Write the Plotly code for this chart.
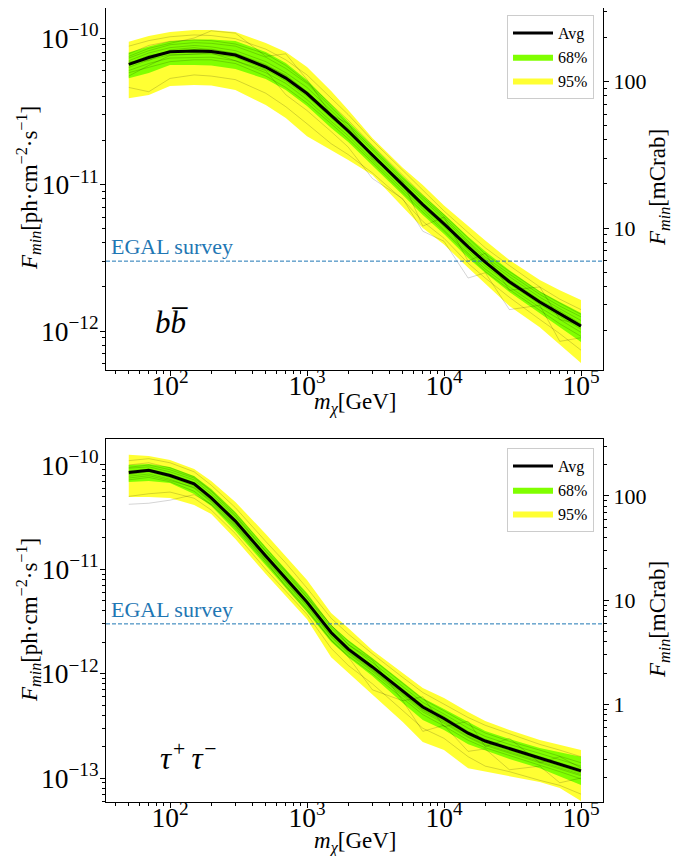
import math
import plotly.graph_objects as go

# ---------------- data ----------------
mass = [50, 70, 100, 150, 200, 300, 500, 700, 1000, 1500, 2000, 3000, 5000, 7000,
        10000, 15000, 20000, 30000, 50000, 70000, 100000]

# b bbar channel
bb_avg = [6.61e-11, 7.36e-11, 8.05e-11, 8.15e-11, 8.09e-11, 7.66e-11, 6.34e-11, 5.33e-11, 4.18e-11, 2.94e-11,
          2.32e-11, 1.59e-11, 9.92e-12, 7.30e-12, 5.38e-12, 3.75e-12, 2.95e-12, 2.17e-12, 1.58e-12, 1.32e-12, 1.08e-12]
bb_68_hi = [7.98e-11, 8.75e-11, 9.50e-11, 9.77e-11, 9.77e-11, 9.54e-11, 8.02e-11, 6.75e-11, 5.17e-11, 3.54e-11,
            2.71e-11, 1.83e-11, 1.14e-11, 8.48e-12, 6.30e-12, 4.40e-12, 3.50e-12, 2.60e-12, 1.87e-12, 1.58e-12, 1.33e-12]
bb_68_lo = [5.31e-11, 5.77e-11, 6.54e-11, 6.54e-11, 6.49e-11, 6.14e-11, 5.25e-11, 4.42e-11, 3.43e-11, 2.43e-11,
            1.95e-11, 1.36e-11, 8.48e-12, 6.19e-12, 4.60e-12, 3.15e-12, 2.50e-12, 1.85e-12, 1.33e-12, 1.06e-12, 8.41e-13]
bb_95_hi = [9.43e-11, 1.032e-10, 1.099e-10, 1.134e-10, 1.134e-10, 1.099e-10, 9.25e-11, 8.02e-11, 6.34e-11, 4.35e-11,
            3.23e-11, 2.08e-11, 1.30e-11, 9.92e-12, 7.20e-12, 5.20e-12, 4.15e-12, 3.05e-12, 2.23e-12, 1.90e-12, 1.63e-12]
bb_95_lo = [3.88e-11, 4.08e-11, 4.70e-11, 4.78e-11, 4.74e-11, 4.42e-11, 3.49e-11, 2.84e-11, 2.14e-11, 1.72e-11,
            1.47e-11, 1.16e-11, 7.02e-12, 5.05e-12, 3.90e-12, 2.70e-12, 2.10e-12, 1.48e-12, 1.06e-12, 8.02e-13, 6.05e-13]
bb_samples = [
    [8.8e-11, 9.6e-11, 1.02e-10, 1.05e-10, 1.04e-10, 9.9e-11, 8.4e-11, 7.1e-11, 5.6e-11, 3.9e-11, 3.0e-11, 2.0e-11, 1.25e-11, 9.1e-12, 6.6e-12, 4.7e-12, 3.7e-12, 2.8e-12, 2.0e-12, 1.65e-12, 1.4e-12],
    [4.6e-11, 4.3e-11, 5.3e-11, 5.6e-11, 5.5e-11, 5.2e-11, 4.2e-11, 3.4e-11, 2.6e-11, 1.9e-11, 1.6e-11, 1.2e-11, 7.9e-12, 5.6e-12, 4.3e-12, 2.9e-12, 2.3e-12, 1.7e-12, 1.2e-12, 9.6e-13, 7.4e-13],
    [7.5e-11, 8.5e-11, 9.2e-11, 1.0e-10, 1.12e-10, 1.08e-10, 7.5e-11, 7.8e-11, 5.2e-11, 3.0e-11, 2.6e-11, 1.5e-11, 1.05e-11, 5.2e-12, 6.0e-12, 3.0e-12, 3.4e-12, 1.9e-12, 2.0e-12, 1.2e-12, 1.1e-12],
    [7.0e-11, 7.9e-11, 8.6e-11, 8.9e-11, 8.7e-11, 8.2e-11, 6.9e-11, 5.8e-11, 4.6e-11, 3.2e-11, 2.5e-11, 1.72e-11, 1.06e-11, 7.9e-12, 5.8e-12, 4.0e-12, 3.1e-12, 2.35e-12, 1.7e-12, 1.42e-12, 1.18e-12],
    [6.0e-11, 6.7e-11, 7.3e-11, 7.4e-11, 7.4e-11, 7.0e-11, 5.8e-11, 4.9e-11, 3.8e-11, 2.7e-11, 2.15e-11, 1.47e-11, 9.2e-12, 6.8e-12, 4.95e-12, 3.4e-12, 2.65e-12, 2.0e-12, 1.45e-12, 1.2e-12, 9.8e-13],
    [5.5e-11, 6.5e-11, 7.6e-11, 7.8e-11, 7.9e-11, 7.0e-11, 6.0e-11, 4.1e-11, 3.2e-11, 2.3e-11, 1.8e-11, 1.1e-11, 8.0e-12, 4.8e-12, 4.1e-12, 2.3e-12, 2.5e-12, 1.4e-12, 1.5e-12, 8.5e-13, 9.0e-13],
    [6.9e-11, 7.0e-11, 8.3e-11, 8.6e-11, 8.3e-11, 7.9e-11, 6.6e-11, 5.5e-11, 4.3e-11, 3.0e-11, 2.42e-11, 1.62e-11, 1.03e-11, 7.5e-12, 5.6e-12, 3.85e-12, 3.0e-12, 2.25e-12, 1.63e-12, 1.37e-12, 1.12e-12],
    [6.3e-11, 7.1e-11, 7.7e-11, 7.8e-11, 7.8e-11, 7.4e-11, 6.1e-11, 5.1e-11, 4.0e-11, 2.85e-11, 2.25e-11, 1.55e-11, 9.6e-12, 7.0e-12, 5.15e-12, 3.55e-12, 2.78e-12, 2.1e-12, 1.52e-12, 1.25e-12, 1.03e-12],
    [7.3e-11, 8.2e-11, 9.0e-11, 9.3e-11, 9.2e-11, 8.8e-11, 7.4e-11, 6.2e-11, 4.9e-11, 3.35e-11, 2.6e-11, 1.77e-11, 1.1e-11, 8.2e-12, 6.0e-12, 4.1e-12, 3.2e-12, 2.45e-12, 1.78e-12, 1.48e-12, 1.25e-12],
    [5.8e-11, 6.3e-11, 6.9e-11, 7.1e-11, 7.1e-11, 6.7e-11, 5.5e-11, 4.6e-11, 3.6e-11, 2.6e-11, 2.05e-11, 1.42e-11, 8.9e-12, 6.5e-12, 4.8e-12, 3.3e-12, 2.55e-12, 1.92e-12, 1.38e-12, 1.12e-12, 9.2e-13],
    [6.7e-11, 7.6e-11, 8.0e-11, 8.3e-11, 8.4e-11, 7.8e-11, 6.5e-11, 5.6e-11, 4.3e-11, 3.05e-11, 2.35e-11, 1.6e-11, 1.0e-11, 7.4e-12, 5.4e-12, 3.7e-12, 2.9e-12, 2.2e-12, 1.6e-12, 1.33e-12, 1.1e-12],
    [7.8e-11, 8.9e-11, 9.5e-11, 9.7e-11, 9.6e-11, 9.1e-11, 7.8e-11, 6.5e-11, 5.0e-11, 3.5e-11, 2.75e-11, 1.85e-11, 1.15e-11, 8.5e-12, 6.2e-12, 4.3e-12, 3.35e-12, 2.55e-12, 1.85e-12, 1.55e-12, 1.3e-12],
]

# tau+ tau- channel
tt_avg = [8.47e-11, 8.89e-11, 7.93e-11, 6.58e-11, 4.83e-11, 2.90e-11, 1.34e-11, 8.26e-12, 4.85e-12, 2.48e-12,
          1.72e-12, 1.16e-12, 6.81e-13, 4.79e-13, 3.72e-13, 2.69e-13, 2.26e-13, 1.91e-13, 1.55e-13, 1.36e-13, 1.17e-13]
tt_68_hi = [1.0e-10, 1.023e-10, 9.57e-11, 7.85e-11, 5.89e-11, 3.54e-11, 1.64e-11, 1.007e-11, 5.93e-12, 2.92e-12,
            2.10e-12, 1.41e-12, 8.32e-13, 5.83e-13, 4.58e-13, 3.44e-13, 2.82e-13, 2.36e-13, 1.94e-13, 1.77e-13, 1.60e-13]
tt_68_lo = [6.87e-11, 7.03e-11, 6.71e-11, 5.27e-11, 4.05e-11, 2.33e-11, 1.08e-11, 6.62e-12, 3.90e-12, 2.01e-12,
            1.44e-12, 9.48e-13, 5.22e-13, 3.59e-13, 2.88e-13, 2.11e-13, 1.85e-13, 1.52e-13, 1.24e-13, 1.04e-13, 8.55e-14]
tt_95_hi = [1.25e-10, 1.219e-10, 1.117e-10, 9.16e-11, 7.03e-11, 4.42e-11, 2.18e-11, 1.34e-11, 7.89e-12, 3.81e-12,
            2.74e-12, 1.68e-12, 1.01e-12, 7.28e-13, 5.83e-13, 4.29e-13, 3.52e-13, 2.88e-13, 2.31e-13, 2.07e-13, 1.85e-13]
tt_95_lo = [4.93e-11, 4.93e-11, 4.83e-11, 4.13e-11, 3.39e-11, 1.95e-11, 9.02e-12, 5.55e-12, 3.33e-12, 1.44e-12,
            1.04e-12, 6.37e-13, 3.44e-13, 2.21e-13, 1.85e-13, 1.24e-13, 1.16e-13, 1.04e-13, 9.14e-14, 8.0e-14, 6.01e-14]
tt_samples = [
    [1.1e-10, 1.15e-10, 1.05e-10, 8.6e-11, 6.4e-11, 3.9e-11, 1.85e-11, 1.15e-11, 6.6e-12, 3.4e-12, 2.4e-12, 1.55e-12, 9.2e-13, 6.6e-13, 5.1e-13, 3.8e-13, 3.2e-13, 2.65e-13, 2.1e-13, 1.85e-13, 1.6e-13],
    [5.0e-11, 5.3e-11, 5.5e-11, 4.8e-11, 3.7e-11, 2.2e-11, 1.0e-11, 6.2e-12, 3.7e-12, 1.75e-12, 1.2e-12, 8.0e-13, 4.4e-13, 3.0e-13, 2.4e-13, 1.6e-13, 1.3e-13, 1.15e-13, 9.5e-14, 8.5e-14, 7.0e-14],
    [9.5e-11, 1.0e-10, 9.0e-11, 7.5e-11, 5.6e-11, 3.3e-11, 1.5e-11, 9.5e-12, 5.4e-12, 2.9e-12, 1.9e-12, 1.35e-12, 5.5e-13, 6.0e-13, 3.1e-13, 3.5e-13, 2.0e-13, 2.4e-13, 1.4e-13, 1.6e-13, 1.25e-13],
    [9.3e-11, 9.6e-11, 8.6e-11, 7.2e-11, 5.3e-11, 3.2e-11, 1.48e-11, 9.1e-12, 5.35e-12, 2.75e-12, 1.9e-12, 1.28e-12, 7.5e-13, 5.3e-13, 4.1e-13, 3.0e-13, 2.5e-13, 2.1e-13, 1.72e-13, 1.5e-13, 1.3e-13],
    [7.8e-11, 8.2e-11, 7.3e-11, 6.0e-11, 4.4e-11, 2.65e-11, 1.22e-11, 7.5e-12, 4.4e-12, 2.25e-12, 1.56e-12, 1.05e-12, 6.2e-13, 4.3e-13, 3.35e-13, 2.45e-13, 2.05e-13, 1.73e-13, 1.4e-13, 1.23e-13, 1.05e-13],
    [4.2e-11, 4.3e-11, 4.6e-11, 5.2e-11, 4.2e-11, 2.6e-11, 1.2e-11, 6.8e-12, 4.0e-12, 2.1e-12, 1.45e-12, 7.0e-13, 5.5e-13, 2.8e-13, 3.2e-13, 1.8e-13, 1.9e-13, 1.2e-13, 1.3e-13, 9.0e-14, 1.0e-13],
    [8.8e-11, 9.1e-11, 8.2e-11, 6.8e-11, 5.0e-11, 3.0e-11, 1.4e-11, 8.6e-12, 5.0e-12, 2.58e-12, 1.8e-12, 1.2e-12, 7.1e-13, 5.0e-13, 3.9e-13, 2.8e-13, 2.35e-13, 1.98e-13, 1.6e-13, 1.4e-13, 1.21e-13],
    [8.1e-11, 8.6e-11, 7.6e-11, 6.3e-11, 4.6e-11, 2.78e-11, 1.28e-11, 7.9e-12, 4.65e-12, 2.38e-12, 1.64e-12, 1.1e-12, 6.5e-13, 4.55e-13, 3.55e-13, 2.58e-13, 2.17e-13, 1.83e-13, 1.48e-13, 1.3e-13, 1.12e-13],
    [1.0e-10, 1.05e-10, 9.4e-11, 7.7e-11, 5.7e-11, 3.45e-11, 1.6e-11, 9.8e-12, 5.7e-12, 2.9e-12, 2.05e-12, 1.38e-12, 8.0e-13, 5.7e-13, 4.4e-13, 3.25e-13, 2.7e-13, 2.25e-13, 1.85e-13, 1.62e-13, 1.4e-13],
    [7.2e-11, 7.6e-11, 6.9e-11, 5.6e-11, 4.15e-11, 2.5e-11, 1.15e-11, 7.0e-12, 4.15e-12, 2.1e-12, 1.48e-12, 1.0e-12, 5.8e-13, 4.05e-13, 3.15e-13, 2.3e-13, 1.95e-13, 1.65e-13, 1.32e-13, 1.15e-13, 9.8e-14],
    [8.6e-11, 8.7e-11, 8.0e-11, 6.5e-11, 4.9e-11, 2.95e-11, 1.36e-11, 8.4e-12, 4.95e-12, 2.5e-12, 1.75e-12, 1.18e-12, 6.9e-13, 4.85e-13, 3.8e-13, 2.72e-13, 2.3e-13, 1.93e-13, 1.57e-13, 1.38e-13, 1.18e-13],
    [7.5e-11, 7.9e-11, 7.1e-11, 6.1e-11, 4.5e-11, 2.7e-11, 1.25e-11, 7.7e-12, 4.5e-12, 2.3e-12, 1.6e-12, 1.08e-12, 6.4e-13, 4.45e-13, 3.45e-13, 2.5e-13, 2.1e-13, 1.78e-13, 1.44e-13, 1.27e-13, 1.08e-13],
]

EGAL_FLUX = 3e-12          # ph cm^-2 s^-1
MCRAB = 5.05e-13           # flux of 1 mCrab
channel_labels = ["<i>b</i><i>b\u0305</i>", "<i>\u03c4</i><sup>\u200a+</sup>\u2009<i>\u03c4</i><sup>\u200a\u2212</sup>"]
xtitle = "<i>m</i><sub><i>\u03c7</i></sub>[GeV]"
ytitle = "<i>F</i><sub><i>min</i></sub>[ph\u00b7cm<sup>\u22122</sup>\u00b7s<sup>\u22121</sup>]"
rtitle = "<i>F</i><sub><i>min</i></sub>[mCrab]"

# ---------------- layout helpers ----------------
FONT = "Liberation Serif"
GREEN = "#80ff00"
YELLOW = "#ffff33"
BLUE = "#1f77b4"

OFF = 8                      # page body margin of the html page
W, H = 686 - OFF, 856 - OFF

def px(xp):                  # page pixel -> paper x
    return (xp - OFF) / W

def py(yp):                  # page pixel -> paper y
    return 1 - (yp - OFF) / H

XDOM = [px(106), px(603)]
XR = [1.5328, 5.1606]
top_dom = [py(370), 1.0]
bot_dom = [py(802), py(439)]
top_range = [-12.266, -9.795]
bot_range = [-13.23, -9.751]
shift = -math.log10(MCRAB)

fig = go.Figure()

panels = [
    dict(avg=bb_avg, h68=bb_68_hi, l68=bb_68_lo, h95=bb_95_hi, l95=bb_95_lo, samples=bb_samples,
         xa="x", ya="y", legend="legend"),
    dict(avg=tt_avg, h68=tt_68_hi, l68=tt_68_lo, h95=tt_95_hi, l95=tt_95_lo, samples=tt_samples,
         xa="x2", ya="y3", legend="legend2"),
]

for p in panels:
    xs = mass + mass[::-1]
    fig.add_trace(go.Scatter(x=xs, y=p["h95"] + p["l95"][::-1], fill="toself", fillcolor=YELLOW,
                             line=dict(width=0, color=YELLOW), mode="lines", name="95%",
                             xaxis=p["xa"], yaxis=p["ya"], legend=p["legend"], legendrank=3,
                             hoverinfo="skip"))
    fig.add_trace(go.Scatter(x=xs, y=p["h68"] + p["l68"][::-1], fill="toself", fillcolor=GREEN,
                             line=dict(width=0, color=GREEN), mode="lines", name="68%",
                             xaxis=p["xa"], yaxis=p["ya"], legend=p["legend"], legendrank=2,
                             hoverinfo="skip"))
    for s in p["samples"]:
        fig.add_trace(go.Scatter(x=mass, y=s, mode="lines", line=dict(color="rgba(0,0,0,0.17)", width=1),
                                 showlegend=False, xaxis=p["xa"], yaxis=p["ya"], hoverinfo="skip"))
    # EGAL survey sensitivity (horizontal line across the full axis)
    fig.add_trace(go.Scatter(x=[10 ** XR[0], 10 ** XR[1]], y=[EGAL_FLUX, EGAL_FLUX], mode="lines",
                             line=dict(color=BLUE, width=1, dash="4px,2px"), showlegend=False,
                             xaxis=p["xa"], yaxis=p["ya"], hoverinfo="skip"))
    fig.add_trace(go.Scatter(x=mass, y=p["avg"], mode="lines", line=dict(color="black", width=3),
                             name="Avg", xaxis=p["xa"], yaxis=p["ya"], legend=p["legend"], legendrank=1))

# ---------------- axes ----------------
tickfont = dict(family=FONT, size=22, color="black")
titlefont = dict(family=FONT, size=23, color="black")
minor = dict(ticks="outside", ticklen=3, tickwidth=1, tickcolor="black", dtick="D1", showgrid=False)
common = dict(type="log", dtick=1, showgrid=False, zeroline=False, ticks="outside", ticklen=5, tickwidth=1,
              tickcolor="black", tickfont=tickfont, minor=minor, automargin=False)

def xaxis(anchor):
    return dict(common, domain=XDOM, anchor=anchor, range=XR, exponentformat="power",
                showline=True, linecolor="black", linewidth=1, mirror=True, ticklabelstandoff=-13)

def yaxis(anchor, dom, rng):
    return dict(common, domain=dom, anchor=anchor, range=rng, exponentformat="power",
                showline=True, linecolor="black", linewidth=1, mirror=True, ticklabelstandoff=-3)

def raxis(anchor, over, dom, rng):
    return dict(common, domain=dom, anchor=anchor, overlaying=over, side="right",
                range=[rng[0] + shift, rng[1] + shift], exponentformat="none", showline=False)

legend_style = dict(bgcolor="rgba(255,255,255,0.8)", bordercolor="#cccccc", borderwidth=1,
                    font=dict(family=FONT, size=16, color="black"), xanchor="right", yanchor="top",
                    x=px(594), tracegroupgap=0, itemwidth=40)

annotations = []
for xa, ya, lab, lx, ly, ycen, xty in [("x", "y", channel_labels[0], 0.131, 0.132, 188, 403),
                                        ("x2", "y3", channel_labels[1], 0.165, 0.124, 620, 842)]:
    annotations.append(dict(text="EGAL survey", xref=xa + " domain", yref=ya, x=0.006,
                            y=math.log10(EGAL_FLUX), xanchor="left", yanchor="bottom", yshift=0,
                            showarrow=False, font=dict(family=FONT, size=22, color=BLUE)))
    annotations.append(dict(text=lab, xref=xa + " domain", yref=ya + " domain", x=lx, y=ly,
                            xanchor="center", yanchor="middle", showarrow=False,
                            font=dict(family=FONT, size=31, color="black")))
    # axis titles
    annotations.append(dict(text=xtitle, xref="paper", yref="paper", x=px(354.5), y=py(xty),
                            xanchor="center", yanchor="middle", showarrow=False, font=titlefont))
    annotations.append(dict(text=ytitle, xref="paper", yref="paper", x=px(28), y=py(ycen), textangle=-90,
                            xanchor="center", yanchor="middle", showarrow=False, font=titlefont))
    annotations.append(dict(text=rtitle, xref="paper", yref="paper", x=px(659), y=py(ycen), textangle=-90,
                            xanchor="center", yanchor="middle", showarrow=False, font=titlefont))

fig.update_layout(
    width=W, height=H, margin=dict(l=0, r=0, t=0, b=0, autoexpand=False),
    paper_bgcolor="white", plot_bgcolor="white",
    xaxis=xaxis("y"), yaxis=yaxis("x", top_dom, top_range), yaxis2=raxis("x", "y", top_dom, top_range),
    xaxis2=xaxis("y3"), yaxis3=yaxis("x2", bot_dom, bot_range), yaxis4=raxis("x2", "y3", bot_dom, bot_range),
    legend=dict(legend_style, y=py(15)),
    legend2=dict(legend_style, y=py(448)),
    annotations=annotations, showlegend=True,
)
# invisible traces so that the mCrab axes are drawn
fig.add_trace(go.Scatter(x=[mass[0]], y=[bb_avg[0] / MCRAB], xaxis="x", yaxis="y2", mode="markers",
                         marker=dict(opacity=0), showlegend=False, hoverinfo="skip"))
fig.add_trace(go.Scatter(x=[mass[0]], y=[tt_avg[0] / MCRAB], xaxis="x2", yaxis="y4", mode="markers",
                         marker=dict(opacity=0), showlegend=False, hoverinfo="skip"))

fig.write_html("out.html")
